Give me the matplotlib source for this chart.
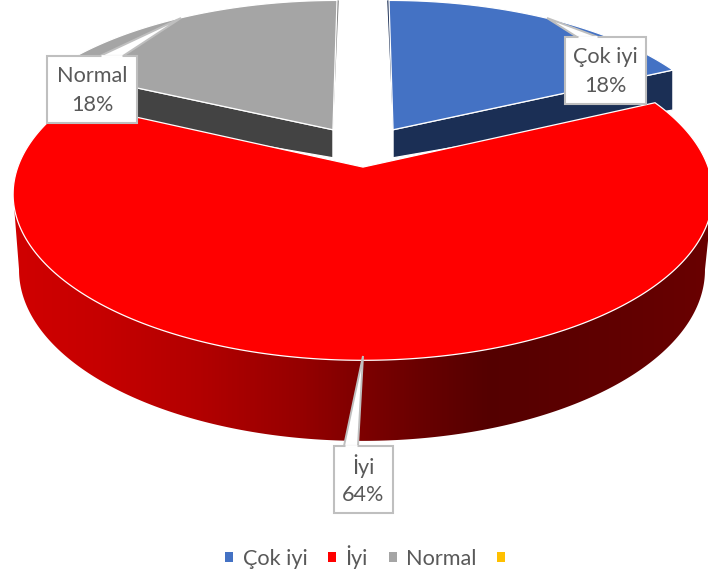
import numpy as np
import matplotlib
matplotlib.use("Agg")
import matplotlib.pyplot as plt
from matplotlib.patches import Polygon, Patch
from matplotlib.colors import LinearSegmentedColormap

# ---- data
categories = ["Çok iyi", "İyi", "Normal", ""]
values = [18, 64, 18, 0]
top_colors = ["#4472C4", "#FF0000", "#A5A5A5", "#FFC000"]
wall_colors = ["#1B2F55", "#8A0000", "#434343", "#FFC000"]
label_boxes = {"Çok iyi": (565, 37, 646, 104), "İyi": (334, 446, 393, 513), "Normal": (47, 56, 137, 123)}
label_tips = {"Çok iyi": ((547, 18), (577, 37), (598, 37)),
              "İyi": ((363, 356), (344, 446), (358, 446)),
              "Normal": ((181, 18), (100, 56), (123, 56))}

# ---- projection of the tilted pie
CX, CY, A, B, K = 363, 146.5, 338, 155, 0.16
CX2, CY2, A2, B2, K2 = 362, 210.8, 324.5, 153, 0.22
EXPLODE, XGAIN = 0.13, 1.3


def project(X, Y):
    d = 1 - K * Y
    return CX + A * X / d, CY + B * Y / d


def project_low(X, Y):
    d = 1 - K2 * Y
    return CX2 + A2 * X / d, CY2 + B2 * Y / d


plt.rcParams["font.family"] = ["Lato", "DejaVu Sans"]
fig = plt.figure(figsize=(7.08, 5.79), dpi=100)
ax = fig.add_axes([0, 0, 1, 1])
ax.axis("off")

total = sum(values)
edges = np.cumsum([0] + values) / total * 2 * np.pi
stops = [(0, 210), (100, 198), (200, 178), (300, 150), (350, 130), (420, 105), (490, 84), (600, 95), (708, 105)]
side_cmap = LinearSegmentedColormap.from_list(
    "side", [(x / 708, (v / 255, 0, 0)) for x, v in stops], N=512)


def slice_geometry(i):
    t0, t1 = edges[i], edges[i + 1]
    mid = (t0 + t1) / 2
    ex, ey = EXPLODE * XGAIN * np.sin(mid), -EXPLODE * np.cos(mid)
    t = np.linspace(t0, t1, 900)
    return t, ex, ey


def top_polygon(i):
    t, ex, ey = slice_geometry(i)
    px, py = project(ex + np.sin(t), ey - np.cos(t))
    ax0, ay0 = project(ex, ey)
    return np.column_stack([np.r_[ax0, px], np.r_[ay0, py]])


def draw_back_slice(i):
    t, ex, ey = slice_geometry(i)
    sign = 1 if np.sin((t[0] + t[-1]) / 2) > 0 else -1
    outer = t[-1] if sign > 0 else t[0]
    inner = t[0] if sign > 0 else t[-1]
    r = np.linspace(0, 1, 30)
    wx, wy = project(ex + r * np.sin(outer), ey - r * np.cos(outer))
    d = 28 + 12 * r
    wall = np.r_[np.column_stack([wx, wy]), np.column_stack([wx, wy + d])[::-1]]
    ax.add_patch(Polygon(wall, closed=True, fc=wall_colors[i], ec="white", lw=0.9, zorder=2))
    ix, iy = project(ex + r * np.sin(inner), ey - r * np.cos(inner))
    sliver = np.r_[np.column_stack([ix, iy]), np.column_stack([ix - sign * 1.8 * r, iy])[::-1]]
    ax.add_patch(Polygon(sliver, closed=True, fc=wall_colors[i] if sign > 0 else "#7F7F7F", ec="none", zorder=2))
    ax.add_patch(Polygon(top_polygon(i), closed=True, fc=top_colors[i], ec="white", lw=0.9, zorder=3))


def draw_front_slice(i):
    t, ex, ey = slice_geometry(i)
    ux, uy = project(ex + np.sin(t), ey - np.cos(t))
    lx, ly = project_low(ex + np.sin(t), ey - np.cos(t))
    # visible outline of the outer wall: lower rim between its extremes, joined to the upper rim's extremes
    li, ri = np.argmax(lx), np.argmin(lx)
    ui_r, ui_l = np.argmax(ux), np.argmin(ux)
    outline = np.r_[np.column_stack([ux[ui_r], uy[ui_r]]),
                    np.column_stack([lx[li:ri + 1], ly[li:ri + 1]]),
                    np.column_stack([ux[ui_l], uy[ui_l]])]
    clip = Polygon(outline, closed=True, fc="none", ec="none", transform=ax.transData)
    ax.add_patch(clip)
    gradient = np.linspace(0, 1, 708)[None, :]
    im = ax.imshow(gradient, cmap=side_cmap, vmin=0, vmax=1, extent=(0, 708, 579, 0), aspect="auto",
                   interpolation="bilinear", zorder=4)
    im.set_clip_path(clip)
    ax.add_patch(Polygon(top_polygon(i), closed=True, fc=top_colors[i], ec="white", lw=0.9, zorder=5))


for i, v in enumerate(values):
    if v == 0:
        continue
    if v > 50:
        draw_front_slice(i)
    else:
        draw_back_slice(i)
ax.set_xlim(0, 708)
ax.set_ylim(579, 0)

# ---- data labels with callouts
for i, name in enumerate(categories):
    if values[i] == 0:
        continue
    x0, y0, x1, y1 = label_boxes[name]
    tip, b0, b1 = label_tips[name]
    ax.add_patch(Polygon([tip, b0, b1], closed=True, fc="white", ec="#BFBFBF", lw=1.4, zorder=8))
    ax.add_patch(Polygon([(x0, y0), (x1, y0), (x1, y1), (x0, y1)], closed=True, fc="white", ec="#BFBFBF", lw=1.5, zorder=9))
    ax.plot([b0[0] + 1, b1[0] - 1], [b0[1], b1[1]], color="white", lw=2, zorder=10, solid_capstyle="butt")
    xm = (x0 + x1) / 2
    ax.text(xm, y0 + 20, name, ha="center", va="center", fontsize=15.6, color="#595959", zorder=11)
    ax.text(xm, y0 + 49, f"{values[i]}%", ha="center", va="center", fontsize=15.6, color="#595959", zorder=11)

# ---- legend
handles = [Patch(facecolor=c, edgecolor="none") for c in top_colors]
ax.legend(handles, categories, loc="center", bbox_to_anchor=(370 / 708, 1 - 557 / 579), ncol=4, frameon=False,
          fontsize=15.6, labelcolor="#595959", handlelength=0.37, handleheight=0.37, handletextpad=0.42,
          columnspacing=0.97, borderpad=0, borderaxespad=0)

fig.savefig("out.png", dpi=100)
